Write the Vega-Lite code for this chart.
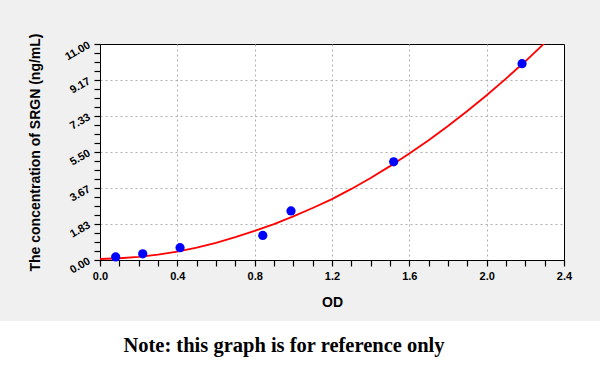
{
  "$schema": "https://vega.github.io/schema/vega-lite/v6.json",
  "background": "#f0f0f0",
  "padding": {"left": 0, "right": 0, "top": 32, "bottom": 0},
  "spacing": 11,
  "bounds": "full",
  "config": {"view": {"stroke": null}, "axis": {"ticks": true, "tickColor": "#000000", "tickOpacity": 1, "tickWidth": 1.2, "tickRound": true, "tickOffset": 0}},
  "datasets": {
    "points": [
      {"od": 0.081, "conc": 0.156},
      {"od": 0.221, "conc": 0.3125},
      {"od": 0.414, "conc": 0.625},
      {"od": 0.842, "conc": 1.25},
      {"od": 0.988, "conc": 2.5},
      {"od": 1.519, "conc": 5.0},
      {"od": 2.183, "conc": 10.0}
    ],
    "curve": [
      {"od": 0.0, "conc": 0.05},
      {"od": 0.1, "conc": 0.09},
      {"od": 0.2, "conc": 0.16},
      {"od": 0.3, "conc": 0.27},
      {"od": 0.4, "conc": 0.43},
      {"od": 0.5, "conc": 0.63},
      {"od": 0.6, "conc": 0.87},
      {"od": 0.7, "conc": 1.16},
      {"od": 0.8, "conc": 1.48},
      {"od": 0.9, "conc": 1.83},
      {"od": 1.0, "conc": 2.22},
      {"od": 1.1, "conc": 2.65},
      {"od": 1.2, "conc": 3.1},
      {"od": 1.3, "conc": 3.62},
      {"od": 1.4, "conc": 4.18},
      {"od": 1.5, "conc": 4.78},
      {"od": 1.6, "conc": 5.42},
      {"od": 1.7, "conc": 6.1},
      {"od": 1.8, "conc": 6.82},
      {"od": 1.9, "conc": 7.59},
      {"od": 2.0, "conc": 8.39},
      {"od": 2.1, "conc": 9.24},
      {"od": 2.2, "conc": 10.12},
      {"od": 2.3, "conc": 11.05}
    ],
    "note": [{"note": "Note: this graph is for reference only"}],
    "blank": [{"t": ""}]
  },
  "vconcat": [
    {
      "spacing": 27,
      "bounds": "full",
      "hconcat": [
        {
          "width": 1,
          "height": 216,
          "data": {"name": "blank"},
          "mark": {"type": "text"},
          "encoding": {"text": {"field": "t"}}
        },
        {
          "width": 464,
          "height": 216,
          "view": {"fill": "white", "stroke": "black", "strokeWidth": 1},
          "encoding": {
            "x": {
              "field": "od",
              "type": "quantitative",
              "scale": {"domain": [0, 2.4], "nice": false, "zero": false},
              "axis": {
                "title": "OD",
                "values": [0, 0.1, 0.2, 0.3, 0.4, 0.5, 0.6, 0.7, 0.8, 0.9, 1.0, 1.1, 1.2, 1.3, 1.4, 1.5, 1.6, 1.7, 1.8, 1.9, 2.0, 2.1, 2.2, 2.3, 2.4],
                "labelExpr": "abs(datum.value/0.4 - round(datum.value/0.4)) < 0.01 ? format(datum.value, '.1f') : ''",
                "grid": true,
                "gridColor": "#b0b0b0",
                "gridDash": [2, 3],
                "gridWidth": 1,
                "gridOpacity": {"condition": {"test": "abs(datum.value/0.4 - round(datum.value/0.4)) < 0.01 && datum.value > 0.01 && datum.value < 2.39", "value": 1}, "value": 0},
                "tickSize": 6,
                "domainColor": "black",
                "labelFont": "Liberation Sans",
                "labelFontWeight": "bold",
                "labelFontSize": 11,
                "labelColor": "black",
                "labelPadding": 4,
                "labelFlush": false,
                "labelOverlap": false,
                "titleFont": "Liberation Sans",
                "titleFontSize": 14,
                "titleFontWeight": "bold",
                "titleColor": "black",
                "titlePadding": 14
              }
            },
            "y": {
              "field": "conc",
              "type": "quantitative",
              "scale": {"domain": [0, 11], "nice": false, "zero": false},
              "axis": {
                "title": "The concentration of SRGN (ng/mL)",
                "values": [0, 0.4583, 0.9167, 1.375, 1.8333, 2.2917, 2.75, 3.2083, 3.6667, 4.125, 4.5833, 5.0417, 5.5, 5.9583, 6.4167, 6.875, 7.3333, 7.7917, 8.25, 8.7083, 9.1667, 9.625, 10.0833, 10.5417, 11],
                "labelExpr": "abs(datum.value*6/11 - round(datum.value*6/11)) < 0.01 ? format(datum.value, '.2f') : ''",
                "grid": true,
                "gridColor": "#b0b0b0",
                "gridDash": [2, 3],
                "gridWidth": 1,
                "gridOpacity": {"condition": {"test": "abs(datum.value*6/11 - round(datum.value*6/11)) < 0.01 && datum.value > 0.01 && datum.value < 10.99", "value": 1}, "value": 0},
                "tickSize": 6,
                "domainColor": "black",
                "labelFont": "Liberation Sans",
                "labelFontWeight": "bold",
                "labelFontSize": 11,
                "labelColor": "black",
                "labelAngle": -30,
                "labelAlign": "right",
                "labelBaseline": "middle",
                "labelPadding": 5,
                "labelFlush": false,
                "labelOverlap": false,
                "titleFont": "Liberation Sans",
                "titleFontSize": 14,
                "titleFontWeight": "bold",
                "titleColor": "black",
                "titlePadding": 20
              }
            }
          },
          "layer": [
            {
              "data": {"name": "curve"},
              "mark": {"type": "line", "color": "#ff0000", "strokeWidth": 1.8, "clip": true}
            },
            {
              "data": {"name": "points"},
              "mark": {"type": "circle", "color": "#0000ff", "opacity": 1, "size": 85}
            }
          ]
        }
      ]
    },
    {
      "width": 600,
      "height": 49,
      "view": {"fill": "white", "stroke": null},
      "data": {"name": "note"},
      "mark": {"type": "text", "font": "Liberation Serif", "fontWeight": "bold", "fontSize": 20.5, "color": "black", "dx": -16, "baseline": "middle"},
      "encoding": {"text": {"field": "note"}}
    }
  ]
}
